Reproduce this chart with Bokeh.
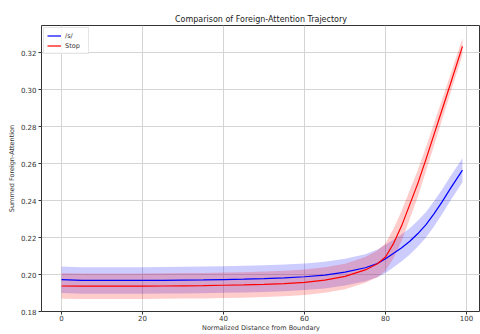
from bokeh.plotting import figure
from bokeh.models import (Range1d, FixedTicker, PrintfTickFormatter, Legend, LegendItem)
from bokeh.embed import file_html
from bokeh.resources import INLINE

# ---- data ----
x_vals = [0, 5, 10, 15, 20, 25, 30, 35, 40, 45, 50, 55, 60, 65, 70, 75, 78, 80, 82, 84, 86, 88, 90, 92, 94, 96, 99]
s_mean = [0.1972, 0.1968, 0.1968, 0.1968, 0.1968, 0.1969, 0.1970, 0.1971, 0.1973, 0.1975, 0.1978, 0.1982, 0.1988,
          0.1997, 0.2013, 0.2037, 0.2060, 0.2085, 0.2115, 0.2145, 0.2180, 0.2222, 0.2270, 0.2330, 0.2395, 0.2465, 0.2565]
s_sd = [0.0072, 0.0072, 0.0072, 0.0072, 0.0072, 0.0072, 0.0072, 0.0072, 0.0072, 0.0072, 0.0072, 0.0072, 0.0072,
        0.0072, 0.0072, 0.0073, 0.0075, 0.0076, 0.0075, 0.0073, 0.0071, 0.0070, 0.0069, 0.0068, 0.0067, 0.0066, 0.0065]
stop_mean = [0.1938, 0.1937, 0.1937, 0.1937, 0.1937, 0.1938, 0.1939, 0.1940, 0.1942, 0.1944, 0.1947, 0.1951, 0.1958,
             0.1970, 0.1990, 0.2025, 0.2058, 0.2095, 0.2169, 0.2265, 0.2380, 0.2495, 0.2625, 0.2760, 0.2895, 0.3030, 0.3235]
stop_sd = [0.0069, 0.0069, 0.0069, 0.0069, 0.0069, 0.0069, 0.0069, 0.0069, 0.0069, 0.0069, 0.0069, 0.0069, 0.0069,
           0.0069, 0.0069, 0.0070, 0.0072, 0.0075, 0.0080, 0.0082, 0.0078, 0.0072, 0.0065, 0.0060, 0.0055, 0.0050, 0.0045]
x_ticks = [0, 20, 40, 60, 80, 100]
y_ticks = [0.18, 0.20, 0.22, 0.24, 0.26, 0.28, 0.30, 0.32]

s_lo = [m - d for m, d in zip(s_mean, s_sd)]
s_hi = [m + d for m, d in zip(s_mean, s_sd)]
stop_lo = [m - d for m, d in zip(stop_mean, stop_sd)]
stop_hi = [m + d for m, d in zip(stop_mean, stop_sd)]

FONT = "DejaVu Sans"

p = figure(width=480, height=334, output_backend="svg", toolbar_location=None,
           x_range=Range1d(-4.95, 103.45), y_range=Range1d(0.18, 0.3348),
           min_border_left=41, min_border_right=0, min_border_top=25, min_border_bottom=16)

p.title.text = "Comparison of Foreign-Attention Trajectory"
p.title.align = "center"
p.title.text_font = FONT
p.title.text_font_size = "8px"
p.title.text_font_style = "normal"
p.title.text_color = "#222222"
p.title.standoff = 3
p.title.offset = 0

p.background_fill_color = "white"
p.border_fill_color = "white"
p.outline_line_color = "#333333"
p.outline_line_width = 1

for ax in (p.xaxis[0], p.yaxis[0]):
    ax.axis_line_color = None
    ax.major_tick_line_color = "#333333"
    ax.major_tick_out = 3
    ax.major_tick_in = 0
    ax.minor_tick_line_color = None
    ax.major_label_text_font = FONT
    ax.major_label_text_font_size = "7px"
    ax.major_label_text_color = "#333333"
    ax.axis_label_text_font = FONT
    ax.axis_label_text_font_size = "6.5px"
    ax.axis_label_text_font_style = "normal"
    ax.axis_label_text_color = "#333333"
    ax.axis_label_standoff = 0
p.xaxis[0].major_label_standoff = 0
p.yaxis[0].major_label_standoff = 2
p.yaxis[0].axis_label_standoff = 2

p.xaxis[0].axis_label = "Normalized Distance from Boundary"
p.yaxis[0].axis_label = "Summed Foreign-Attention"

p.xaxis.ticker = FixedTicker(ticks=x_ticks)
p.yaxis.ticker = FixedTicker(ticks=y_ticks)
p.yaxis.formatter = PrintfTickFormatter(format="%.2f")

p.xgrid.ticker = FixedTicker(ticks=x_ticks)
p.ygrid.ticker = FixedTicker(ticks=y_ticks)
p.grid.grid_line_color = "#d4d4d4"
p.grid.grid_line_width = 1

# bands
p.varea(x=x_vals, y1=s_lo, y2=s_hi, fill_color="blue", fill_alpha=0.2)
p.varea(x=x_vals, y1=stop_lo, y2=stop_hi, fill_color="red", fill_alpha=0.2)

r_s = p.line(x=x_vals, y=s_mean, line_color="blue", line_width=1.2)
r_stop = p.line(x=x_vals, y=stop_mean, line_color="red", line_width=1.2)

legend = Legend(items=[LegendItem(label="/s/", renderers=[r_s]),
                       LegendItem(label="Stop", renderers=[r_stop])],
                location="top_left")
legend.label_text_font = FONT
legend.label_text_font_size = "6.5px"
legend.label_text_color = "#333333"
legend.glyph_width = 14
legend.glyph_height = 9
legend.label_height = 9
legend.label_standoff = 4
legend.spacing = 1
legend.padding = 3
legend.margin = 2
legend.border_line_color = "#cccccc"
legend.border_line_width = 1
legend.background_fill_alpha = 0.8
p.add_layout(legend)

open("out.html", "w").write(file_html(p, INLINE))
